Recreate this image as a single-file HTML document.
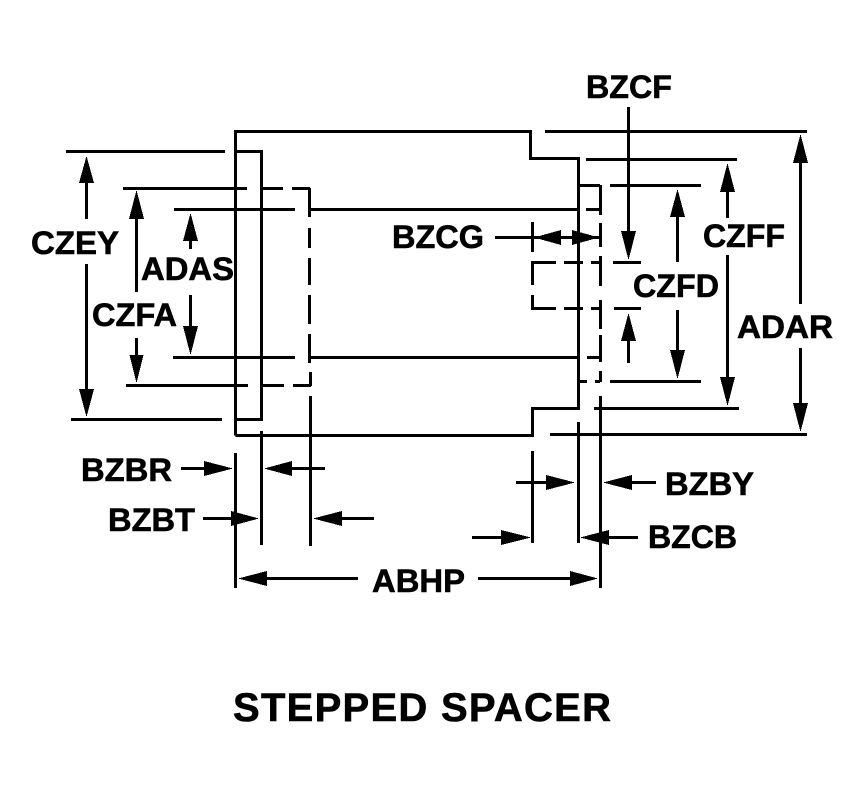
<!DOCTYPE html>
<html><head><meta charset="utf-8"><style>
html,body{margin:0;padding:0;background:#fff}
svg{display:block}
text{font-family:"Liberation Sans",Arial,sans-serif;font-weight:bold;font-size:32.5px;fill:#000;stroke:#000;stroke-width:.6px}
</style></head><body>
<svg width="864" height="789" viewBox="0 0 864 789" xmlns="http://www.w3.org/2000/svg">
<g fill="none" stroke="#000" stroke-width="3" shape-rendering="crispEdges">
<path d="M235.5 435.5V131.5H530.5V158.5H578.5V408.5H532.5V435.5H235.5"/>
<path d="M235.5 151.5H261.5V419.5H235.5"/>
<path d="M66 151.5H225M71 419.5H222M123 188.5H247M263 188.5H283M292 188.5H310M126 385.5H248M263 385.5H284M293 385.5H311"/>
<path d="M174 209.5H295M310 209.5H578M586 209.5H600M173 357.5H295M310 357.5H578M587 357.5H600"/>
<path d="M309.5 188V217M309.5 228V248M309.5 258V285M309.5 295V324M309.5 334V363M310.5 372V386M310.5 396V546M261.5 431V545"/>
<path d="M545 131.5H807M550 434.5H807M586 159.5H737M578 185.5H600M610 185.5H701M578 381.5H587M595 381.5H600M610 381.5H701M594 408.5H739"/>
<path d="M600.5 185V215M600.5 223V247M600.5 256V286M600.5 300V329M600.5 335V362M600.5 371V382M600.5 396V588"/>
<path d="M532.5 262V285M532.5 295V308.5M531 262.5H556M564 262.5H583M591 262.5H600M613 262.5H641M531 308.5H556M564 308.5H583M591 308.5H600M614 308.5H641"/>
<path d="M578.5 422V543M532.5 451V543M235.5 453V588M532.5 222V252"/>
<path d="M86.5 183V219M86.5 264V389M136.5 219V292M136.5 338V355M190.5 241V249M190.5 295V326"/>
<path d="M628.5 107V231M628.5 341V363M677.5 217V262M677.5 310V350M727.5 192V218M727.5 255V377M800.5 163V304M800.5 348V403"/>
<path d="M495 237.5H600M181 468.5H204M292 468.5H325M203 518.5H231M342 518.5H374M267 578.5H358M478 578.5H570M516 482.5H546M632 482.5H656M472 537.5H501M609 537.5H638"/>
</g>
<g fill="#000" shape-rendering="crispEdges">
<polygon points="86.5,156 79,183 94,183"/><polygon points="86.5,417 79,389 94,389"/>
<polygon points="136.5,190 129,219 144,219"/><polygon points="136.5,383 129.500,355 143.500,355"/>
<polygon points="190.500,213 183,241 198,241"/><polygon points="190.500,355 183,326 198,326"/>
<polygon points="628.500,260 621,231 636,231"/><polygon points="628.500,313 621,341 636,341"/>
<polygon points="677.500,189 670,217 685,217"/><polygon points="677.500,379 670,350 685,350"/>
<polygon points="727.500,163 720,192 735,192"/><polygon points="727.500,406 720,377 735,377"/>
<polygon points="800.500,134 793,163 808,163"/><polygon points="800.500,432 793,403 808,403"/>
<polygon points="534,237.500 561,230 561,245"/><polygon points="599,237.500 572,230 572,245"/>
<polygon points="233,468.500 204,461 204,476"/><polygon points="264,468.500 292,461 292,476"/>
<polygon points="259,518.500 231,511 231,526"/><polygon points="313,518.500 342,511 342,526"/>
<polygon points="238,578.500 267,571 267,586"/><polygon points="598,578.500 570,571 570,586"/>
<polygon points="575,482.500 546,475 546,490"/><polygon points="603,482.500 632,475 632,490"/>
<polygon points="531,537.500 501,530 501,545"/><polygon points="580,537.500 609,530 609,545"/>
</g>
<text x="31" y="254" textLength="88" lengthAdjust="spacingAndGlyphs">CZEY</text>
<text x="141" y="280" textLength="93" lengthAdjust="spacingAndGlyphs">ADAS</text>
<text x="92" y="326" textLength="85" lengthAdjust="spacingAndGlyphs">CZFA</text>
<text x="586" y="98" textLength="86" lengthAdjust="spacingAndGlyphs">BZCF</text>
<text x="392" y="248" textLength="92" lengthAdjust="spacingAndGlyphs">BZCG</text>
<text x="703" y="247" textLength="82" lengthAdjust="spacingAndGlyphs">CZFF</text>
<text x="633" y="297" textLength="86" lengthAdjust="spacingAndGlyphs">CZFD</text>
<text x="737" y="338" textLength="96" lengthAdjust="spacingAndGlyphs">ADAR</text>
<text x="81" y="481" textLength="91" lengthAdjust="spacingAndGlyphs">BZBR</text>
<text x="108" y="531" textLength="87" lengthAdjust="spacingAndGlyphs">BZBT</text>
<text x="665" y="495" textLength="89" lengthAdjust="spacingAndGlyphs">BZBY</text>
<text x="648" y="548" textLength="89" lengthAdjust="spacingAndGlyphs">BZCB</text>
<text x="372" y="592" textLength="93" lengthAdjust="spacingAndGlyphs">ABHP</text>
<text x="233" y="721" style="font-size:40px" textLength="378" lengthAdjust="spacing">STEPPED SPACER</text>
</svg>
</body></html>
